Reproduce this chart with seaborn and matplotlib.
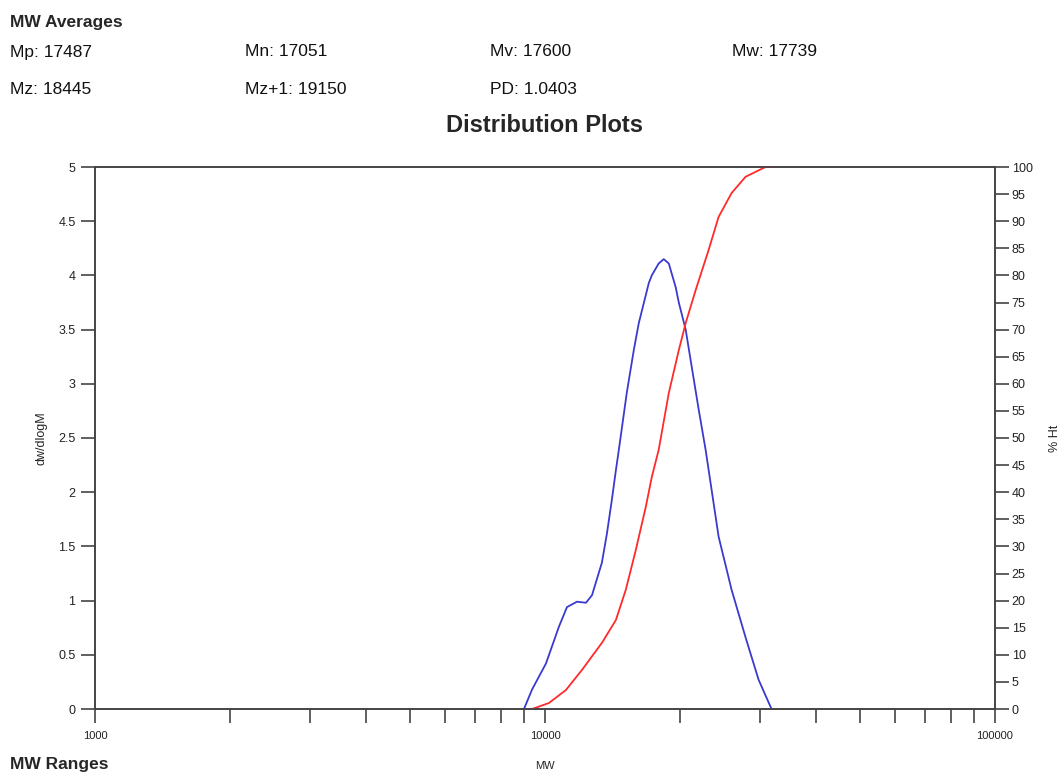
import matplotlib
matplotlib.use("Agg")
import matplotlib.pyplot as plt
import seaborn as sns
import pandas as pd
from matplotlib.ticker import LogLocator, FixedLocator, NullFormatter, FixedFormatter

# ---- data ----
dist_mw = [8980, 9360, 10050, 10740, 11190, 11780, 12330, 12720, 13380, 13730,
           14080, 14370, 14590, 15200, 15750, 16160, 17010, 17270, 17890, 18360,
           18840, 19520, 19830, 20540, 21180, 21960, 22750, 24310, 25980, 27910,
           29830, 31870]
dist_val = [0.0, 0.18, 0.42, 0.76, 0.94, 0.99, 0.98, 1.05, 1.35, 1.62,
            1.93, 2.20, 2.39, 2.92, 3.31, 3.56, 3.93, 4.00, 4.11, 4.15,
            4.11, 3.89, 3.75, 3.50, 3.16, 2.76, 2.39, 1.59, 1.10, 0.66,
            0.27, 0.0]

cum_mw = [9360, 10200, 11130, 12080, 13380, 14370, 15120, 15910, 16750, 17270,
          17890, 18840, 19830, 20540, 21620, 23100, 24310, 25980, 27910, 30900,
          32520]
cum_val = [0.0, 1.1, 3.5, 7.2, 12.2, 16.4, 22.0, 29.3, 37.3, 42.8,
           47.8, 58.3, 66.2, 71.2, 77.3, 84.7, 90.8, 95.2, 98.2, 100.0,
           100.0]

header_labels = [["Mp: 17487", "Mn: 17051", "Mv: 17600", "Mw: 17739"],
                 ["Mz: 18445", "Mz+1: 19150", "PD: 1.0403"]]
left_ticks = [0, 0.5, 1, 1.5, 2, 2.5, 3, 3.5, 4, 4.5, 5]
left_tick_labels = ["0", "0.5", "1", "1.5", "2", "2.5", "3", "3.5", "4", "4.5", "5"]
right_ticks = list(range(0, 101, 5))
x_major = [1000, 10000, 100000]
x_major_labels = ["1000", "10000", "100000"]

# ---- style ----
sns.set_style("white")
plt.rcParams['font.family'] = ['Liberation Sans', 'DejaVu Sans']

fig = plt.figure(figsize=(10.63, 7.76), dpi=100)
ax = fig.add_axes([95/1063, 1 - 709/776, 900/1063, 542/776])
ax.set_xscale("log")
ax2 = ax.twinx()

df1 = pd.DataFrame({"MW": dist_mw, "dw/dlogM": dist_val})
df2 = pd.DataFrame({"MW": cum_mw, "% Ht": cum_val})

sns.lineplot(data=df1, x="MW", y="dw/dlogM", ax=ax, color="#3a3ad0",
             linewidth=1.3, estimator=None, sort=False)
sns.lineplot(data=df2, x="MW", y="% Ht", ax=ax2, color="#ff2a2a",
             linewidth=1.3, estimator=None, sort=False)

spine_color = "#444444"
for a in (ax, ax2):
    for s in a.spines.values():
        s.set_color(spine_color)
        s.set_linewidth(1.2)
        s.set_visible(True)

ax.set_xlim(1000, 100000)
ax.set_ylim(0, 5)
ax2.set_ylim(0, 100)
ax.set_yticks(left_ticks)
ax.set_yticklabels(left_tick_labels)
ax2.set_yticks(right_ticks)
ax2.set_yticklabels([str(t) for t in right_ticks])

ax.xaxis.set_major_locator(FixedLocator(x_major))
ax.xaxis.set_major_formatter(FixedFormatter(x_major_labels))
ax.xaxis.set_minor_locator(LogLocator(base=10, subs=(2, 3, 4, 5, 6, 7, 8, 9)))
ax.xaxis.set_minor_formatter(NullFormatter())

tick_kw = dict(direction="out", color=spine_color, width=1.2, length=10,
               labelcolor="#222222")
ax.tick_params(axis="x", which="both", labelsize=8, pad=6, bottom=True, **tick_kw)
ax.tick_params(axis="y", which="major", labelsize=9, pad=4, **tick_kw)
ax2.tick_params(axis="y", which="major", labelsize=9, pad=2, **tick_kw)
ax2.tick_params(axis="x", which="both", bottom=False, top=False)

ax.set_xlabel("MW", fontsize=8, labelpad=14)
ax.set_ylabel("dw/dlogM", fontsize=9, labelpad=8)
ax2.set_ylabel("% Ht", fontsize=9, labelpad=12)

# ---- header texts ----
fig.text(10/1063, 1 - 22/776, "MW Averages", fontsize=12.5, fontweight="bold",
         va="center", ha="left")
col_x = [10, 245, 490, 732]
row_y = [52, 90]
for r, row in enumerate(header_labels):
    for c, lab in enumerate(row):
        fig.text(col_x[c]/1063, 1 - row_y[r]/776, lab, fontsize=12.5,
                 va="center", ha="left", color="#111111")
fig.text(545/1063, 1 - 126/776, "Distribution Plots", fontsize=17,
         fontweight="bold", va="center", ha="center")
fig.text(10/1063, 1 - 764/776, "MW Ranges", fontsize=12.5, fontweight="bold",
         va="center", ha="left")

fig.savefig("out.png", dpi=100, facecolor="white")
